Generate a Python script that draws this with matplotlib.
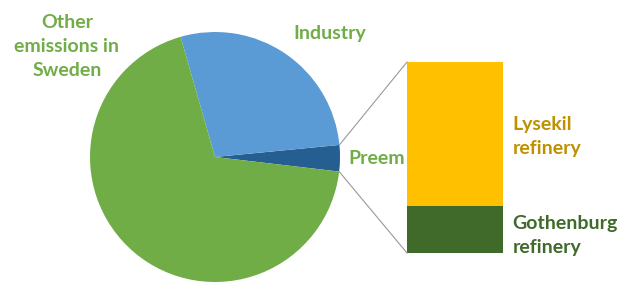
import matplotlib.pyplot as plt
from matplotlib.patches import ConnectionPatch
import numpy as np

# pie data (share of Swedish emissions, %)
pie_labels = ['Preem', 'Industry', 'Other\nemissions in\nSweden']
pie_values = [3.4, 27.9, 68.7]
pie_colors = ['#255E91', '#5B9BD5', '#70AD47']

# Preem split (%)
bar_labels = ['Gothenburg\nrefinery', 'Lysekil\nrefinery']
bar_values = [24.6, 75.4]
bar_colors = ['#3F6A2A', '#FFC000']
bar_text_colors = ['#3F6A2A', '#BF9000']

plt.rcParams['font.family'] = ['Lato', 'DejaVu Sans']

fig = plt.figure(figsize=(6.17, 2.84), dpi=100)
ax = fig.add_axes([0, 0, 1, 1])

cx, cy, r = 215, 127, 125
wedges, _ = ax.pie(pie_values, colors=pie_colors, startangle=-6.7,
                   counterclock=True, center=(cx, cy), radius=r,
                   wedgeprops=dict(linewidth=0))
ax.set_xlim(0, 617)
ax.set_ylim(0, 284)
ax.set_aspect('equal')
ax.axis('off')

green = '#70AD47'
fs = 14
ls = 1.5
ax.text(67, 237, pie_labels[2], ha='center', va='center', color=green,
        fontsize=fs, fontweight='bold', linespacing=ls)
ax.text(330, 251, pie_labels[1], ha='center', va='center', color=green,
        fontsize=fs, fontweight='bold')
ax.text(377, 125, pie_labels[0], ha='center', va='center', color=green,
        fontsize=fs, fontweight='bold')

# bar of the Preem share
bax = fig.add_axes([407 / 617, 31 / 284, 96 / 617, 191 / 284])
bottom = 0
for v, c in zip(bar_values, bar_colors):
    bax.bar(0, v, bottom=bottom, width=1, color=c, linewidth=0)
    bottom += v
bax.set_xlim(-0.5, 0.5)
bax.set_ylim(0, sum(bar_values))
bax.axis('off')

bax.text(0.6, bar_values[0] / 2 - 3, bar_labels[0],
         ha='left', va='center', color=bar_text_colors[0], fontsize=fs,
         fontweight='bold', linespacing=ls)
bax.text(0.6, bar_values[0] + bar_values[1] * 0.48, bar_labels[1],
         ha='left', va='center', color=bar_text_colors[1], fontsize=fs,
         fontweight='bold', linespacing=ls)

# connector lines from Preem wedge edges to bar corners
w = wedges[0]
for ang, ytarget in [(w.theta2, sum(bar_values)), (w.theta1, 0)]:
    x = cx + r * np.cos(np.radians(ang))
    y = cy + r * np.sin(np.radians(ang))
    con = ConnectionPatch(xyA=(-0.5, ytarget), coordsA=bax.transData,
                          xyB=(x, y), coordsB=ax.transData,
                          color='#999999', linewidth=0.8)
    fig.add_artist(con)

fig.savefig('out.png', dpi=100)
